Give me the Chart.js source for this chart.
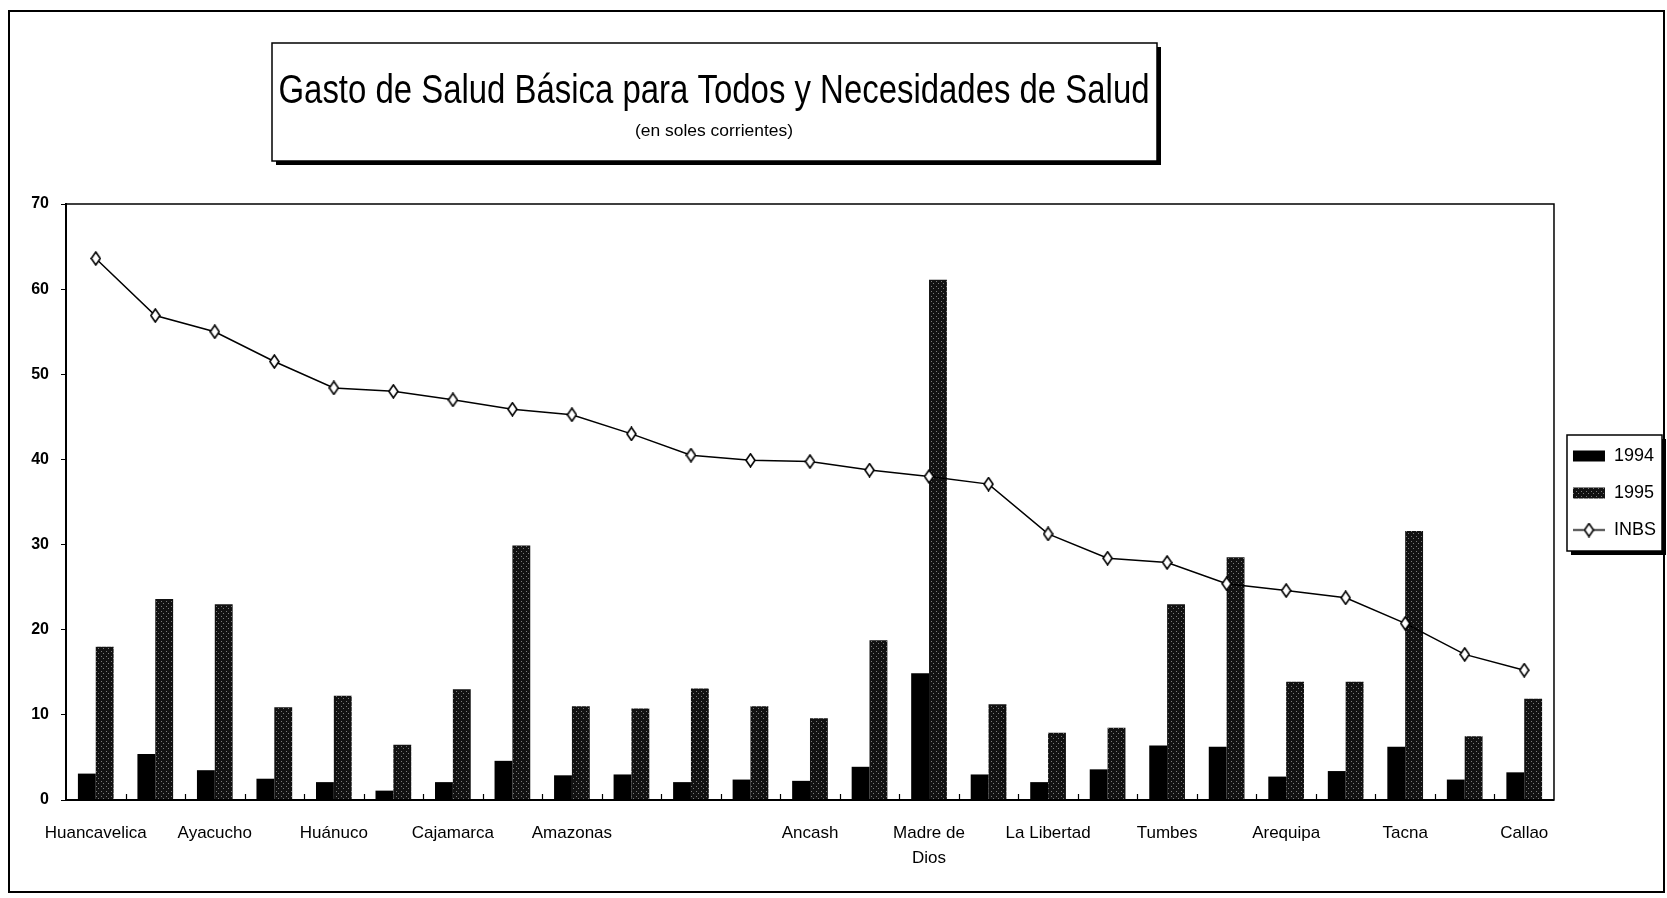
<!DOCTYPE html>
<html>
<head>
<meta charset="utf-8">
<script src="https://cdn.jsdelivr.net/npm/chart.js@4.4.0/dist/chart.umd.min.js"></script>
<style>
  html, body { margin: 0; padding: 0; background: #fff; }
</style>
</head>
<body>
<canvas id="chart" width="1667" height="898"></canvas>
<script>
// ---- data ----
const departamentos = [
  'Huancavelica', '', 'Ayacucho', '', 'Huánuco', '', 'Cajamarca', '', 'Amazonas', '',
  '', '', 'Ancash', '', ['Madre de', 'Dios'], '', 'La Libertad', '', 'Tumbes', '',
  'Arequipa', '', 'Tacna', '', 'Callao'
];
const gasto1994 = [3.1, 5.4, 3.5, 2.5, 2.1, 1.1, 2.1, 4.6, 2.9, 3.0, 2.1, 2.4, 2.25, 3.9, 14.9,
  3.0, 2.1, 3.6, 6.4, 6.25, 2.75, 3.4, 6.25, 2.4, 3.25];
const gasto1995 = [18.0, 23.6, 23.0, 10.9, 12.25, 6.5, 13.0, 29.9, 11.0, 10.75, 13.1, 11.0, 9.6, 18.75, 61.1,
  11.25, 7.9, 8.5, 23.0, 28.5, 13.9, 13.9, 31.6, 7.5, 11.9];
const inbs = [63.6, 56.9, 55.0, 51.5, 48.4, 48.0, 47.0, 45.9, 45.25, 43.0, 40.5, 39.9, 39.75, 38.75, 38.0,
  37.1, 31.25, 28.4, 27.9, 25.4, 24.6, 23.75, 20.75, 17.1, 15.25];
const yTicks = [0, 10, 20, 30, 40, 50, 60, 70];
const serieNames = ['1994', '1995', 'INBS'];

const FONT = "'Liberation Sans', Arial, sans-serif";

// stippled fill for the 1995 bars
function makeStipple() {
  const c = document.createElement('canvas');
  c.width = 5; c.height = 5;
  const g = c.getContext('2d');
  g.fillStyle = '#121212';
  g.fillRect(0, 0, 5, 5);
  g.fillStyle = '#7a7a7a';
  g.fillRect(1, 1, 1, 1);
  g.fillRect(3, 3, 1, 1);
  return g.createPattern(c, 'repeat');
}
const stipple = makeStipple();

// tall open diamond used as marker
function makeDiamond() {
  const c = document.createElement('canvas');
  c.width = 11; c.height = 15;
  const g = c.getContext('2d');
  g.beginPath();
  g.moveTo(5.5, 1); g.lineTo(10, 7.5); g.lineTo(5.5, 14); g.lineTo(1, 7.5); g.closePath();
  g.fillStyle = '#fff'; g.fill();
  g.lineWidth = 1.6; g.strokeStyle = '#000'; g.stroke();
  return c;
}
const diamond = makeDiamond();

function makeLegendLine() {
  const c = document.createElement('canvas');
  c.width = 32; c.height = 15;
  const g = c.getContext('2d');
  g.strokeStyle = '#000'; g.lineWidth = 1.5;
  g.beginPath(); g.moveTo(0, 7.5); g.lineTo(32, 7.5); g.stroke();
  g.drawImage(diamond, 10.5, 0);
  return c;
}
const legendLine = makeLegendLine();

function boxWithShadow(ctx, x, y, w, h) {
  ctx.fillStyle = '#000';
  ctx.fillRect(x + 4, y + 4, w, h);
  ctx.fillStyle = '#fff';
  ctx.fillRect(x, y, w, h);
  ctx.strokeStyle = '#000';
  ctx.lineWidth = 1.5;
  ctx.strokeRect(x, y, w, h);
}

// draw text squeezed to a given width (the scan uses a narrow face)
function fitText(ctx, text, cx, cy, width) {
  const w = ctx.measureText(text).width;
  ctx.save();
  ctx.translate(cx, cy);
  ctx.scale(width / w, 1);
  ctx.fillText(text, 0, 0);
  ctx.restore();
}

const decor = {
  id: 'decor',
  beforeDraw(chart) {
    const ctx = chart.ctx;
    ctx.save();
    ctx.fillStyle = '#fff';
    ctx.fillRect(0, 0, chart.width, chart.height);
    // legend frame
    const hb = chart.legend.legendHitBoxes;
    if (hb && hb.length) {
      const l = Math.min(...hb.map(b => b.left)) - 6;
      const t = Math.min(...hb.map(b => b.top)) - 12;
      const r = Math.max(...hb.map(b => b.left + b.width)) + 6;
      const btm = Math.max(...hb.map(b => b.top + b.height)) + 12;
      boxWithShadow(ctx, l, t, r - l, btm - t);
    }
    ctx.restore();
  },
  afterDraw(chart) {
    const ctx = chart.ctx;
    const a = chart.chartArea;
    ctx.save();
    // outer frame of the figure
    ctx.strokeStyle = '#000';
    ctx.lineWidth = 2;
    ctx.strokeRect(9, 11, 1655, 881);
    // plot frame
    ctx.lineWidth = 1.5;
    ctx.strokeRect(a.left, a.top, a.right - a.left, a.bottom - a.top);
    // inward tick marks between categories
    const xs = chart.scales.x;
    const n = departamentos.length;
    const step = (xs.right - xs.left) / n;
    ctx.lineWidth = 1.2;
    ctx.beginPath();
    for (let i = 1; i < n; i++) {
      const x = Math.round(xs.left + i * step) + 0.5;
      ctx.moveTo(x, a.bottom);
      ctx.lineTo(x, a.bottom - 6);
    }
    ctx.stroke();
    // title box
    boxWithShadow(ctx, 272, 43, 885, 118);
    ctx.fillStyle = '#000';
    ctx.textAlign = 'center';
    ctx.textBaseline = 'middle';
    ctx.font = '41px ' + FONT;
    fitText(ctx, 'Gasto de Salud Básica para Todos y Necesidades de Salud', 714, 92, 871);
    ctx.font = '17px ' + FONT;
    fitText(ctx, '(en soles corrientes)', 714, 131, 158);
    ctx.restore();
  }
};

new Chart(document.getElementById('chart'), {
  data: {
    labels: departamentos,
    datasets: [
      {
        type: 'line',
        label: serieNames[2],
        data: inbs,
        order: 0,
        borderColor: '#000',
        borderWidth: 1.5,
        pointStyle: diamond,
        pointRadius: 6,
        tension: 0
      },
      {
        type: 'bar',
        label: serieNames[0],
        data: gasto1994,
        order: 1,
        backgroundColor: '#000',
        categoryPercentage: 0.6,
        barPercentage: 1.0
      },
      {
        type: 'bar',
        label: serieNames[1],
        data: gasto1995,
        order: 1,
        backgroundColor: stipple,
        categoryPercentage: 0.6,
        barPercentage: 1.0
      }
    ]
  },
  options: {
    responsive: false,
    animation: false,
    layout: { padding: { top: 204, left: 20, bottom: 0, right: 1 } },
    plugins: {
      tooltip: { enabled: false },
      legend: {
        position: 'right',
        fullSize: false,
        align: 'start',
        title: { display: true, text: ' ', font: { size: 20 }, padding: 100 },
        labels: {
          usePointStyle: true,
          pointStyleWidth: 32,
          boxHeight: 11,
          padding: 19,
          color: '#000',
          font: { family: FONT, size: 18 },
          sort: (a, b) => serieNames.indexOf(a.text) - serieNames.indexOf(b.text),
          generateLabels(chart) {
            const items = Chart.defaults.plugins.legend.labels.generateLabels(chart);
            items.forEach(it => {
              if (it.text === 'INBS') {
                it.pointStyle = legendLine;
              } else {
                it.pointStyle = 'rect';
                it.lineWidth = 0;
                it.strokeStyle = 'rgba(0,0,0,0)';
              }
            });
            return items;
          }
        }
      }
    },
    scales: {
      x: {
        offset: true,
        grid: { display: false },
        border: { display: true, color: '#000', width: 2 },
        ticks: {
          autoSkip: false,
          maxRotation: 0,
          padding: 13,
          color: '#000',
          font: { family: FONT, size: 17, lineHeight: 1.45 }
        },
        afterFit(s) { s.height = 98; }
      },
      y: {
        min: 0,
        max: 70,
        afterBuildTicks(s) { s.ticks = yTicks.map(v => ({ value: v })); },
        grid: { drawOnChartArea: false, drawTicks: true, tickLength: 5, color: '#000' },
        border: { display: true, color: '#000', width: 2 },
        ticks: {
          padding: 12,
          color: '#000',
          font: { family: FONT, size: 16, weight: 'bold' }
        },
        afterFit(s) { s.width = 46; }
      }
    }
  },
  plugins: [decor]
});
</script>
</body>
</html>
